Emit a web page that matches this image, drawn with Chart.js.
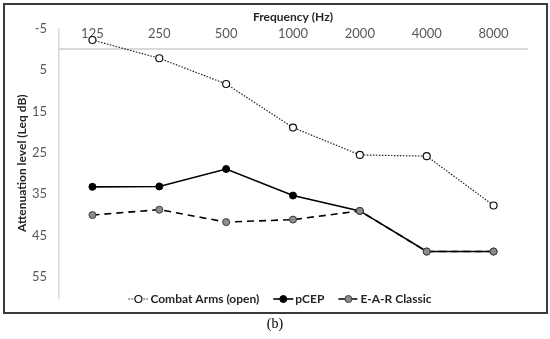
<!DOCTYPE html>
<html>
<head>
<meta charset="utf-8">
<script src="https://cdn.jsdelivr.net/npm/chart.js@4"></script>
<style>
  html, body { margin: 0; padding: 0; background: #ffffff; width: 550px; height: 339px; overflow: hidden; }
  #frame { position: absolute; left: 3px; top: 3px; width: 545px; height: 311px; box-sizing: border-box; border: 2px solid #3a3a3a; }
  #c { position: absolute; left: 0; top: 0; }
  #cap { position: absolute; left: 0; width: 550px; top: 316px; text-align: center; font-family: "Liberation Serif", "DejaVu Serif", serif; font-size: 14px; color: #000; }
</style>
</head>
<body>
<div id="frame"></div>
<canvas id="c" width="550" height="339"></canvas>
<div id="cap">(b)</div>
<script>
const frequencies = ['125', '250', '500', '1000', '2000', '4000', '8000'];
const combatArms = [-2.2, 2.2, 8.4, 18.9, 25.5, 25.8, 37.7];
const pCEP = [33.2, 33.1, 28.9, 35.3, 39.0, 48.8, 48.8];
const earClassic = [40.0, 38.7, 41.7, 41.1, 39.0, 48.8, 48.8];
const seriesNames = ['Combat Arms (open)', 'pCEP', 'E-A-R Classic'];
const yTicks = [-5, 5, 15, 25, 35, 45, 55];

const FONT = 'Lato, "Open Sans", sans-serif';

const legendPlugin = {
  id: 'customLegend',
  afterDraw(chart) {
    const ctx = chart.ctx;
    const metas = [0, 1, 2].map(i => chart.data.datasets[i]);
    ctx.save();
    ctx.font = 'bold 12px ' + FONT;
    ctx.textBaseline = 'middle';
    const markW = 20, gapText = 2, gapItem = 14;
    const widths = metas.map(d => markW + gapText + ctx.measureText(d.label).width);
    const total = widths.reduce((a, b) => a + b, 0) + gapItem * (metas.length - 1);
    let x = 280 - total / 2;
    const y = 299;
    metas.forEach((d, i) => {
      ctx.save();
      ctx.strokeStyle = d.borderColor;
      ctx.lineWidth = d.borderWidth;
      ctx.setLineDash(d.borderDash || []);
      ctx.beginPath();
      ctx.moveTo(x, y);
      ctx.lineTo(x + markW, y);
      ctx.stroke();
      ctx.setLineDash([]);
      ctx.beginPath();
      ctx.arc(x + markW / 2, y, d.pointRadius, 0, Math.PI * 2);
      ctx.fillStyle = d.pointBackgroundColor;
      ctx.fill();
      ctx.lineWidth = d.pointBorderWidth;
      ctx.strokeStyle = d.pointBorderColor;
      ctx.stroke();
      ctx.restore();
      ctx.fillStyle = '#262626';
      ctx.textAlign = 'left';
      ctx.fillText(d.label, x + markW + gapText, y);
      x += widths[i] + gapItem;
    });
    ctx.restore();
  }
};

new Chart(document.getElementById('c'), {
  type: 'line',
  data: {
    labels: frequencies,
    datasets: [
      {
        label: seriesNames[0],
        data: combatArms,
        borderColor: '#222222',
        borderWidth: 1.2,
        borderDash: [1.5, 1.5],
        pointRadius: 3.5,
        pointBackgroundColor: '#ffffff',
        pointBorderColor: '#111111',
        pointBorderWidth: 1.2,
        fill: false,
        tension: 0,
        order: 2
      },
      {
        label: seriesNames[1],
        data: pCEP,
        borderColor: '#000000',
        borderWidth: 1.6,
        pointRadius: 3.5,
        pointBackgroundColor: '#000000',
        pointBorderColor: '#000000',
        pointBorderWidth: 1,
        fill: false,
        tension: 0,
        order: 1
      },
      {
        label: seriesNames[2],
        data: earClassic,
        borderColor: '#000000',
        borderWidth: 1.6,
        borderDash: [7, 5],
        pointRadius: 3.5,
        pointBackgroundColor: '#8c8c8c',
        pointBorderColor: '#3c3c3c',
        pointBorderWidth: 1,
        fill: false,
        tension: 0,
        order: 0
      }
    ]
  },
  options: {
    responsive: false,
    animation: false,
    layout: { padding: { left: 4, right: 23, top: 4, bottom: 41 } },
    plugins: {
      legend: { display: false },
      tooltip: { enabled: false },
      title: {
        display: true,
        text: 'Frequency (Hz)',
        fullSize: false,
        color: '#262626',
        font: { family: FONT, size: 12, weight: 'bold' },
        padding: { top: 6, bottom: 4 }
      }
    },
    scales: {
      x: {
        type: 'category',
        offset: true,
        position: { y: 0 },
        grid: { display: false, drawTicks: false },
        border: { display: true, color: '#d9d9d9', width: 2 },
        ticks: { color: '#595959', font: { family: FONT, size: 13 }, padding: -23, maxRotation: 0 }
      },
      y: {
        reverse: true,
        min: -5,
        max: 60,
        position: 'left',
        grid: { display: false, drawTicks: false },
        border: { display: true, color: '#d9d9d9', width: 1.5 },
        afterBuildTicks: (scale) => { scale.ticks = yTicks.map(v => ({ value: v })); },
        afterFit: (scale) => { scale.width = 55; },
        ticks: { color: '#595959', font: { family: FONT, size: 13 }, padding: 12 },
        title: {
          display: true,
          text: 'Attenuation level (Leq dB)',
          color: '#262626',
          font: { family: FONT, size: 12, weight: 'bold' },
          padding: { top: 11, bottom: 0 }
        }
      }
    }
  },
  plugins: [legendPlugin]
});
</script>
</body>
</html>
